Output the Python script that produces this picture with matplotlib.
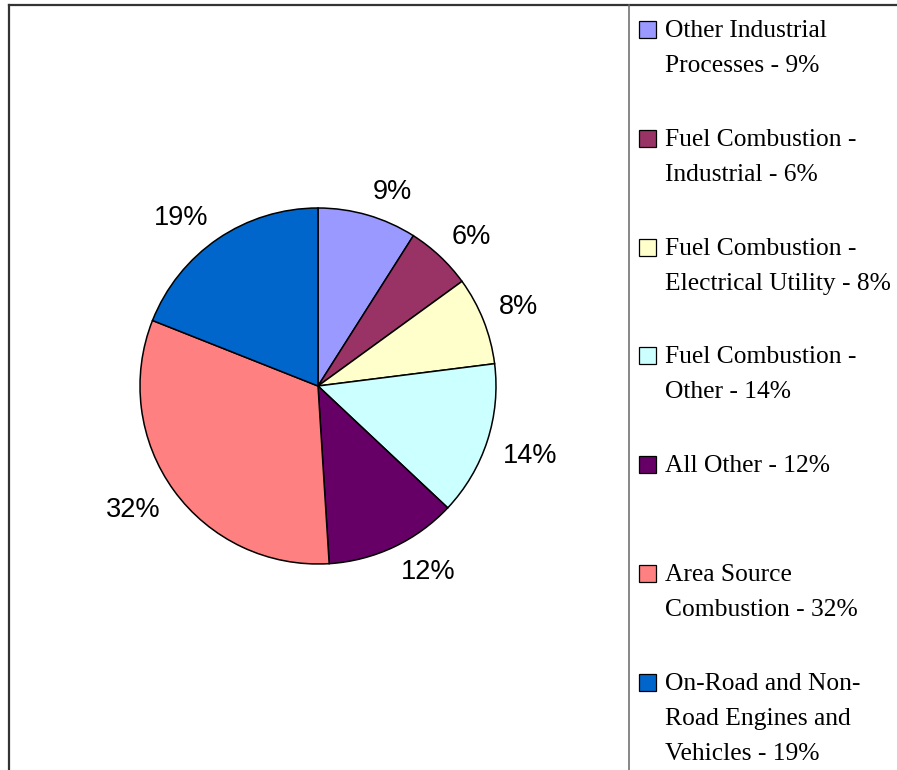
import matplotlib
matplotlib.use("Agg")
import numpy as np
import matplotlib.pyplot as plt
from matplotlib.lines import Line2D
from matplotlib.patches import Rectangle

# ---- data ----
categories = [
    "Other Industrial\nProcesses - 9%",
    "Fuel Combustion -\nIndustrial - 6%",
    "Fuel Combustion -\nElectrical Utility - 8%",
    "Fuel Combustion -\nOther - 14%",
    "All Other - 12%",
    "Area Source\nCombustion - 32%",
    "On-Road and Non-\nRoad Engines and\nVehicles - 19%",
]
values = [9, 6, 8, 14, 12, 32, 19]
colors = ["#9999FF", "#993366", "#FFFFCC", "#CCFFFF", "#660066", "#FF8080", "#0066CC"]

W, H = 897, 770
fig = plt.figure(figsize=(W / 100, H / 100), dpi=100)
fig.patch.set_facecolor("white")


def fx(x):
    return x / W


def fy(y):
    return 1 - y / H


# pie axes
cx, cy, r = 318, 386, 178
ax = fig.add_axes([fx(cx - r), fy(cy + r), 2 * r / W, 2 * r / H])
wedges, _ = ax.pie(values, colors=colors, startangle=90, counterclock=False, radius=1,
                   wedgeprops=dict(edgecolor="black", linewidth=1.1))
total = sum(values)
d = 1.095
for w, v in zip(wedges, values):
    th = np.deg2rad((w.theta1 + w.theta2) / 2)
    c, s = np.cos(th), np.sin(th)
    ax.text(d * c, d * s + (0 if s >= 0 else 0.02), f"{100 * v / total:.0f}%",
            ha="left" if c >= 0 else "right",
            va="baseline" if s >= 0 else "top",
            fontsize=19.5, family="Liberation Sans", color="black")
ax.set_xlim(-1, 1)
ax.set_ylim(-1, 1)
ax.set_aspect("auto")
ax.axis("off")

# frame lines
fig.add_artist(Line2D([fx(9), fx(9)], [fy(5), fy(H + 5)], color="#333333", lw=1.6))
fig.add_artist(Line2D([fx(9), fx(W + 5)], [fy(5), fy(5)], color="#333333", lw=1.6))
fig.add_artist(Line2D([fx(629), fx(629)], [fy(5), fy(H + 5)], color="#666666", lw=1.1))

# legend
base0, step, line_step = 37, 108.8, 35
for i, (lab, col) in enumerate(zip(categories, colors)):
    b = base0 + step * i
    fig.add_artist(Rectangle((fx(639), fy(b + 1)), 17 / W, 17 / H, facecolor=col,
                             edgecolor="black", lw=0.9, transform=fig.transFigure))
    for j, line in enumerate(lab.split("\n")):
        fig.text(fx(665), fy(b + line_step * j), line, fontsize=18.4,
                 family="Liberation Serif", va="baseline", ha="left", color="black")

fig.savefig("out.png", dpi=100, facecolor="white")
